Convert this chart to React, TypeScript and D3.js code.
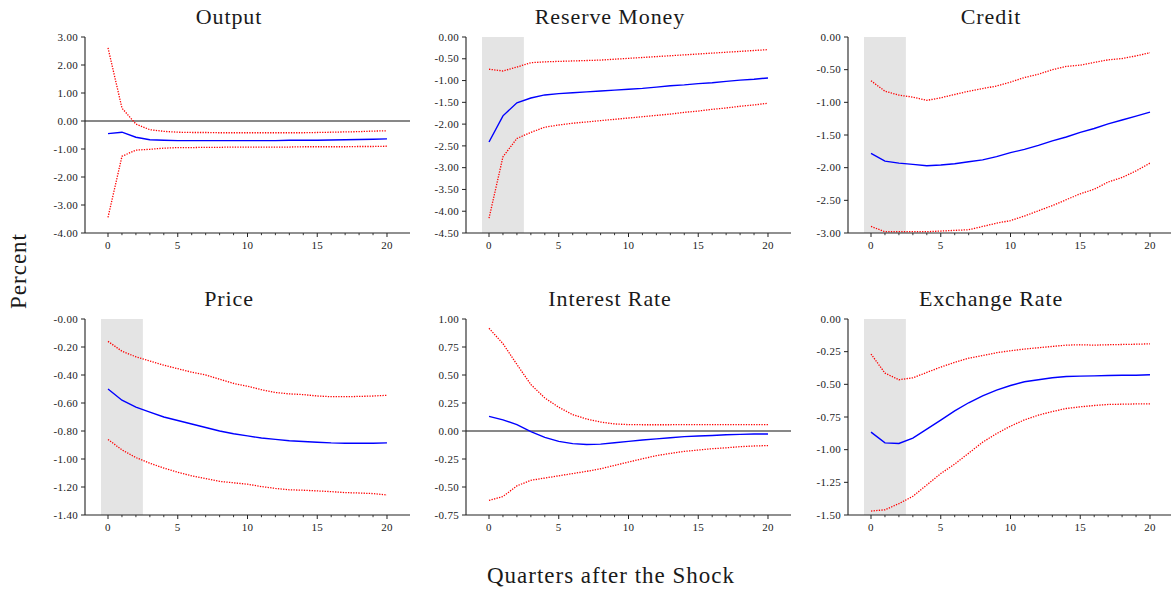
import React from "react";
import * as d3 from "d3";

// Quarters after the shock (horizontal axis)
const QUARTERS = [0, 1, 2, 3, 4, 5, 6, 7, 8, 9, 10, 11, 12, 13, 14, 15, 16, 17, 18, 19, 20];
const MAJOR_X_TICKS = [0, 5, 10, 15, 20];
const MINOR_X_TICKS = [1, 2, 3, 4, 6, 7, 8, 9, 11, 12, 13, 14, 16, 17, 18, 19];

// Output
const outputMid = [-0.45, -0.4, -0.58, -0.67, -0.69, -0.7, -0.7, -0.7, -0.7, -0.7, -0.7, -0.7, -0.7, -0.69, -0.69, -0.69, -0.68, -0.67, -0.66, -0.65, -0.64];
const outputUpper = [2.61, 0.46, -0.11, -0.31, -0.37, -0.4, -0.41, -0.41, -0.42, -0.42, -0.42, -0.42, -0.42, -0.42, -0.42, -0.41, -0.4, -0.39, -0.38, -0.36, -0.35];
const outputLower = [-3.44, -1.26, -1.04, -1.01, -0.97, -0.95, -0.95, -0.94, -0.94, -0.93, -0.93, -0.93, -0.93, -0.93, -0.92, -0.92, -0.92, -0.92, -0.91, -0.91, -0.9];
const outputTicks = [3, 2, 1, 0, -1, -2, -3, -4];
const outputTickLabels = ["3.00", "2.00", "1.00", "0.00", "-1.00", "-2.00", "-3.00", "-4.00"];

// Reserve Money
const reserveMid = [-2.41, -1.81, -1.51, -1.4, -1.33, -1.3, -1.28, -1.26, -1.24, -1.22, -1.2, -1.18, -1.15, -1.12, -1.1, -1.07, -1.05, -1.02, -0.99, -0.97, -0.94];
const reserveUpper = [-0.74, -0.78, -0.69, -0.59, -0.57, -0.56, -0.55, -0.54, -0.53, -0.51, -0.49, -0.47, -0.45, -0.43, -0.41, -0.39, -0.37, -0.35, -0.33, -0.31, -0.29];
const reserveLower = [-4.16, -2.75, -2.33, -2.19, -2.07, -2.02, -1.98, -1.95, -1.92, -1.89, -1.86, -1.83, -1.8, -1.77, -1.73, -1.7, -1.66, -1.63, -1.59, -1.56, -1.52];
const reserveTicks = [0, -0.5, -1, -1.5, -2, -2.5, -3, -3.5, -4, -4.5];
const reserveTickLabels = ["0.00", "-0.50", "-1.00", "-1.50", "-2.00", "-2.50", "-3.00", "-3.50", "-4.00", "-4.50"];

// Credit
const creditMid = [-1.78, -1.9, -1.93, -1.95, -1.97, -1.96, -1.94, -1.91, -1.88, -1.83, -1.77, -1.72, -1.66, -1.59, -1.53, -1.46, -1.4, -1.33, -1.27, -1.21, -1.15];
const creditUpper = [-0.67, -0.83, -0.89, -0.92, -0.97, -0.93, -0.88, -0.83, -0.79, -0.75, -0.69, -0.62, -0.57, -0.5, -0.45, -0.43, -0.39, -0.35, -0.33, -0.29, -0.24];
const creditLower = [-2.9, -2.98, -2.98, -2.98, -2.98, -2.97, -2.96, -2.95, -2.9, -2.85, -2.81, -2.74, -2.66, -2.58, -2.49, -2.4, -2.33, -2.22, -2.15, -2.05, -1.93];
const creditTicks = [0, -0.5, -1, -1.5, -2, -2.5, -3];
const creditTickLabels = ["0.00", "-0.50", "-1.00", "-1.50", "-2.00", "-2.50", "-3.00"];

// Price
const priceMid = [-0.5, -0.58, -0.63, -0.665, -0.7, -0.725, -0.75, -0.775, -0.8, -0.82, -0.835, -0.85, -0.86, -0.87, -0.875, -0.88, -0.885, -0.887, -0.887, -0.887, -0.885];
const priceUpper = [-0.16, -0.23, -0.27, -0.3, -0.33, -0.355, -0.38, -0.4, -0.43, -0.46, -0.48, -0.505, -0.525, -0.535, -0.54, -0.55, -0.555, -0.555, -0.553, -0.55, -0.545];
const priceLower = [-0.86, -0.935, -0.99, -1.03, -1.065, -1.095, -1.12, -1.14, -1.16, -1.17, -1.18, -1.197, -1.21, -1.22, -1.223, -1.228, -1.233, -1.24, -1.243, -1.247, -1.257];
const priceTicks = [0, -0.2, -0.4, -0.6, -0.8, -1, -1.2, -1.4];
const priceTickLabels = ["-0.00", "-0.20", "-0.40", "-0.60", "-0.80", "-1.00", "-1.20", "-1.40"];

// Interest Rate
const rateMid = [0.13, 0.1, 0.057, -0.006, -0.057, -0.093, -0.113, -0.12, -0.117, -0.105, -0.093, -0.08, -0.07, -0.06, -0.05, -0.045, -0.04, -0.033, -0.03, -0.027, -0.027];
const rateUpper = [0.917, 0.78, 0.594, 0.415, 0.295, 0.212, 0.146, 0.107, 0.08, 0.063, 0.057, 0.056, 0.056, 0.056, 0.057, 0.057, 0.057, 0.057, 0.057, 0.057, 0.057];
const rateLower = [-0.62, -0.585, -0.49, -0.44, -0.42, -0.4, -0.38, -0.36, -0.337, -0.307, -0.277, -0.248, -0.22, -0.2, -0.182, -0.17, -0.158, -0.15, -0.14, -0.134, -0.13];
const rateTicks = [1, 0.75, 0.5, 0.25, 0, -0.25, -0.5, -0.75];
const rateTickLabels = ["1.00", "0.75", "0.50", "0.25", "0.00", "-0.25", "-0.50", "-0.75"];

// Exchange Rate
const fxMid = [-0.866, -0.948, -0.953, -0.912, -0.843, -0.774, -0.703, -0.641, -0.588, -0.544, -0.509, -0.48, -0.465, -0.45, -0.44, -0.437, -0.435, -0.432, -0.43, -0.43, -0.427];
const fxUpper = [-0.268, -0.414, -0.465, -0.45, -0.409, -0.368, -0.332, -0.3, -0.279, -0.258, -0.243, -0.23, -0.22, -0.21, -0.2, -0.197, -0.2, -0.197, -0.195, -0.193, -0.19];
const fxLower = [-1.47, -1.46, -1.413, -1.357, -1.27, -1.183, -1.11, -1.027, -0.943, -0.877, -0.82, -0.772, -0.736, -0.708, -0.685, -0.672, -0.662, -0.654, -0.652, -0.65, -0.649];
const fxTicks = [0, -0.25, -0.5, -0.75, -1, -1.25, -1.5];
const fxTickLabels = ["0.00", "-0.25", "-0.50", "-0.75", "-1.00", "-1.25", "-1.50"];

type Panel = {
  title: string;
  mid: number[];
  upper: number[];
  lower: number[];
  ticks: number[];
  tickLabels: string[];
  shaded: boolean;
  zeroLine: boolean;
};

const panels: Panel[] = [
  { title: "Output", mid: outputMid, upper: outputUpper, lower: outputLower, ticks: outputTicks, tickLabels: outputTickLabels, shaded: false, zeroLine: true },
  { title: "Reserve Money", mid: reserveMid, upper: reserveUpper, lower: reserveLower, ticks: reserveTicks, tickLabels: reserveTickLabels, shaded: true, zeroLine: false },
  { title: "Credit", mid: creditMid, upper: creditUpper, lower: creditLower, ticks: creditTicks, tickLabels: creditTickLabels, shaded: true, zeroLine: false },
  { title: "Price", mid: priceMid, upper: priceUpper, lower: priceLower, ticks: priceTicks, tickLabels: priceTickLabels, shaded: true, zeroLine: false },
  { title: "Interest Rate", mid: rateMid, upper: rateUpper, lower: rateLower, ticks: rateTicks, tickLabels: rateTickLabels, shaded: false, zeroLine: true },
  { title: "Exchange Rate", mid: fxMid, upper: fxUpper, lower: fxLower, ticks: fxTicks, tickLabels: fxTickLabels, shaded: true, zeroLine: false },
];

const WIDTH = 1171;
const HEIGHT = 592;
const COL_LEFT = [85, 466, 848];
const ROW_TOP = [37, 319];
const AX_W = 325;
const AX_H = 196;
const TITLE_X = [229, 610, 991];
const FONT = "'Liberation Serif', 'Times New Roman', serif";
const AXIS_COLOR = "#222";
const TEXT_COLOR = "#1a1a1a";

function PanelChart({ p, index }: { p: Panel; index: number }) {
  const col = index % 3;
  const row = Math.floor(index / 3);
  const left = COL_LEFT[col];
  const top = ROW_TOP[row];

  const x = d3.scaleLinear().domain([-1.65, 21.65]).range([left, left + AX_W]);
  const y = d3
    .scaleLinear()
    .domain([d3.min(p.ticks) as number, d3.max(p.ticks) as number])
    .range([top + AX_H, top]);

  const line = d3
    .line<number>()
    .x((_, i) => x(QUARTERS[i]))
    .y((d) => y(d));

  const bottom = top + AX_H;

  return (
    <g>
      <text
        x={TITLE_X[col]}
        y={top - 13}
        textAnchor="middle"
        fontFamily={FONT}
        fontSize={22}
        letterSpacing={0.9}
        fill={TEXT_COLOR}
      >
        {p.title}
      </text>
      {p.shaded && (
        <rect x={x(-0.5)} y={top} width={x(2.5) - x(-0.5)} height={AX_H} fill="#e4e4e4" />
      )}
      {p.zeroLine && (
        <line x1={left} x2={left + AX_W} y1={y(0)} y2={y(0)} stroke="#111" strokeWidth={1} />
      )}
      <path d={line(p.upper) || ""} fill="none" stroke="#ff0000" strokeWidth={1.3} strokeDasharray="1.3,1.3" />
      <path d={line(p.lower) || ""} fill="none" stroke="#ff0000" strokeWidth={1.3} strokeDasharray="1.3,1.3" />
      <path d={line(p.mid) || ""} fill="none" stroke="#0000ff" strokeWidth={1.4} />
      {/* spines */}
      <line x1={left} x2={left} y1={top} y2={bottom} stroke={AXIS_COLOR} strokeWidth={1.1} />
      <line x1={left} x2={left + AX_W} y1={bottom} y2={bottom} stroke={AXIS_COLOR} strokeWidth={1.1} />
      {/* y ticks */}
      {p.ticks.map((t, i) => (
        <g key={`y${i}`}>
          <line x1={left - 4} x2={left} y1={y(t)} y2={y(t)} stroke={AXIS_COLOR} strokeWidth={1} />
          <text
            x={left - 7}
            y={y(t)}
            dy="0.33em"
            textAnchor="end"
            fontFamily={FONT}
            fontSize={11}
            letterSpacing={0.3}
            fill={TEXT_COLOR}
          >
            {p.tickLabels[i]}
          </text>
        </g>
      ))}
      {/* x ticks */}
      {MINOR_X_TICKS.map((t) => (
        <line key={`m${t}`} x1={x(t)} x2={x(t)} y1={bottom} y2={bottom + 2.2} stroke={AXIS_COLOR} strokeWidth={0.9} />
      ))}
      {MAJOR_X_TICKS.map((t) => (
        <g key={`x${t}`}>
          <line x1={x(t)} x2={x(t)} y1={bottom} y2={bottom + 4} stroke={AXIS_COLOR} strokeWidth={1} />
          <text
            x={x(t)}
            y={bottom + 16}
            textAnchor="middle"
            fontFamily={FONT}
            fontSize={11}
            letterSpacing={0.3}
            fill={TEXT_COLOR}
          >
            {t}
          </text>
        </g>
      ))}
    </g>
  );
}

export default function App() {
  return (
    <svg width={WIDTH} height={HEIGHT} style={{ display: "block", position: "absolute", left: 0, top: 0, background: "#fff" }}>
      <rect width={WIDTH} height={HEIGHT} fill="#fff" />
      {panels.map((p, i) => (
        <PanelChart key={p.title} p={p} index={i} />
      ))}
      <text
        transform="translate(26,271) rotate(-90)"
        textAnchor="middle"
        fontFamily={FONT}
        fontSize={23}
        letterSpacing={1}
        fill={TEXT_COLOR}
      >
        Percent
      </text>
      <text
        x={611}
        y={583}
        textAnchor="middle"
        fontFamily={FONT}
        fontSize={23}
        letterSpacing={1}
        fill={TEXT_COLOR}
      >
        Quarters after the Shock
      </text>
    </svg>
  );
}
